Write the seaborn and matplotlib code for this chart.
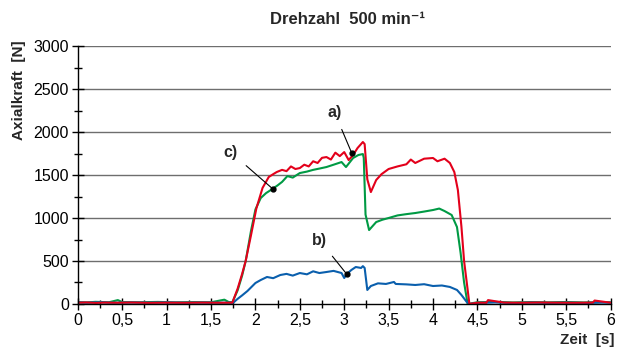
import matplotlib
matplotlib.use("Agg")
import matplotlib.pyplot as plt
import seaborn as sns
from matplotlib.ticker import MultipleLocator, FuncFormatter

# Data (time in s, force in N)
t_a = [0, 0.1, 0.2, 0.3, 0.45, 0.6, 0.8, 1.0, 1.2, 1.4, 1.6, 1.74, 1.8, 1.85, 1.89, 1.95, 2.01,
       2.08, 2.15, 2.2, 2.24, 2.3, 2.35, 2.4, 2.45, 2.5, 2.55, 2.6, 2.65, 2.7, 2.75, 2.8, 2.85,
       2.9, 2.95, 3.0, 3.05, 3.1, 3.15, 3.21, 3.23, 3.26, 3.3, 3.36, 3.42, 3.5, 3.6, 3.7, 3.75,
       3.8, 3.9, 4.0, 4.05, 4.13, 4.19, 4.24, 4.28, 4.32, 4.35, 4.41, 4.5, 4.6, 4.62, 4.8, 5.0,
       5.2, 5.4, 5.6, 5.8, 5.82, 6.0]
force_a = [15, 18, 12, 16, 14, 17, 13, 15, 14, 16, 14, 15, 180, 350, 500, 800, 1110,
           1350, 1477, 1510, 1535, 1560, 1545, 1600, 1570, 1581, 1620, 1600, 1660, 1640, 1700,
           1709, 1680, 1760, 1720, 1767, 1674, 1733, 1814, 1884, 1860, 1450, 1302, 1442,
           1510, 1570, 1600, 1625, 1680, 1640, 1690, 1698, 1660, 1690, 1640, 1535, 1326, 900,
           500, 0, 15, 14, 45, 16, 14, 17, 15, 14, 16, 40, 15]

t_b = [0, 0.1, 0.25, 0.4, 0.6, 0.8, 1.0, 1.2, 1.4, 1.6, 1.75, 1.8, 1.85, 1.91, 2.0, 2.06,
       2.13, 2.2, 2.28, 2.35, 2.42, 2.5, 2.58, 2.65, 2.72, 2.8, 2.88, 2.97, 3.0, 3.03, 3.08,
       3.13, 3.19, 3.21, 3.23, 3.26, 3.3, 3.38, 3.47, 3.56, 3.58, 3.7, 3.8, 3.9, 4.0, 4.1,
       4.19, 4.27, 4.32, 4.38, 4.41, 4.5, 4.7, 4.9, 5.1, 5.3, 5.5, 5.7, 5.9, 6.0]
force_b = [18, 15, 20, 14, 17, 15, 18, 14, 16, 15, 15, 60, 100, 151, 244, 279,
           314, 300, 337, 350, 330, 360, 345, 380, 360, 372, 385, 360, 302, 349, 395,
           430, 419, 440, 419, 163, 209, 240, 233, 256, 233, 228, 221, 230, 209, 215,
           198, 163, 105, 23, 0, 12, 18, 10, 16, 12, 15, 11, 16, 14]

t_c = [0, 0.1, 0.2, 0.35, 0.45, 0.5, 0.7, 0.9, 1.1, 1.3, 1.5, 1.65, 1.7, 1.74, 1.8, 1.85,
       1.89, 1.95, 2.0, 2.06, 2.12, 2.19, 2.25, 2.3, 2.36, 2.42, 2.5, 2.58, 2.65, 2.72, 2.8,
       2.88, 2.97, 3.02, 3.1, 3.16, 3.21, 3.22, 3.24, 3.28, 3.36, 3.43, 3.5, 3.6, 3.7, 3.8,
       3.9, 4.0, 4.07, 4.13, 4.21, 4.27, 4.31, 4.35, 4.39, 4.5, 4.7, 4.9, 5.1, 5.3, 5.5,
       5.7, 5.9, 6.0]
force_c = [22, 18, 25, 20, 45, 22, 20, 24, 19, 22, 20, 50, 22, 20, 160, 330,
           500, 850, 1100, 1233, 1290, 1337, 1380, 1420, 1488, 1470, 1523, 1540, 1560,
           1575, 1593, 1620, 1651, 1593, 1698, 1733, 1744, 1700, 1040, 860, 953, 980,
           1000, 1030, 1045, 1058, 1075, 1093, 1110, 1081, 1035, 895, 600, 250, 0, 20,
           24, 18, 22, 19, 23, 18, 22, 20]

x_ticks = [0, 0.5, 1, 1.5, 2, 2.5, 3, 3.5, 4, 4.5, 5, 5.5, 6]
y_ticks = [0, 500, 1000, 1500, 2000, 2500, 3000]

sns.set_style("white")
plt.rcParams['font.family'] = ['Liberation Sans Narrow', 'Liberation Sans', 'DejaVu Sans']

fig = plt.figure(figsize=(6.18, 3.49), dpi=100)
ax = fig.add_axes([0.126, 0.129, 0.862, 0.739])

for yv in y_ticks[1:]:
    ax.axhline(yv, color="#6e6e6e", lw=1.0, zorder=0)

sns.lineplot(x=t_c, y=force_c, color="#009a44", lw=1.5, ax=ax, sort=False)
sns.lineplot(x=t_b, y=force_b, color="#0a5fad", lw=1.5, ax=ax, sort=False)
sns.lineplot(x=t_a, y=force_a, color="#e3001b", lw=1.5, ax=ax, sort=False)

ax.set_xlim(0, 6)
ax.set_ylim(0, 3000)
ax.set_xticks(x_ticks)
ax.set_yticks(y_ticks)
ax.xaxis.set_minor_locator(MultipleLocator(0.25))
ax.yaxis.set_minor_locator(MultipleLocator(250))
ax.xaxis.set_major_formatter(FuncFormatter(lambda v, p: f"{v:g}".replace(".", ",")))
ax.tick_params(axis="both", which="major", direction="inout", length=9, width=1,
               colors="black", labelsize=11.5, pad=2)
ax.tick_params(axis="both", which="minor", direction="inout", length=6, width=1,
               colors="black")
ax.tick_params(axis="x", which="both", bottom=True)
ax.tick_params(axis="y", which="both", left=True)
for s in ["top", "right"]:
    ax.spines[s].set_visible(False)
for s in ["left", "bottom"]:
    ax.spines[s].set_color("black")
    ax.spines[s].set_linewidth(1)
    ax.spines[s].set_zorder(5)

# annotations
notes = [("a)", 2.89, 2230, 3.086, 1752),
         ("c)", 1.72, 1767, 2.197, 1337),
         ("b)", 2.72, 744, 3.03, 345)]
for lab, tx, ty, px, py in notes:
    ax.annotate(lab, xy=(px, py), xytext=(tx, ty), fontsize=11.5, fontweight="bold",
                ha="center", va="center",
                arrowprops=dict(arrowstyle="-", color="black", lw=0.8, shrinkA=5, shrinkB=0))
    ax.plot(px, py, "o", color="black", ms=3.5, zorder=6)

fig.text(0.563, 0.943, "Drehzahl  500 min⁻¹", ha="center", va="center",
         fontsize=12, fontweight="bold")
fig.text(0.03, 0.885, "Axialkraft  [N]", rotation=90, ha="center", va="top",
         fontsize=11, fontweight="bold")
fig.text(0.995, 0.025, "Zeit  [s]", ha="right", va="center", fontsize=11,
         fontweight="bold")

fig.savefig("out.png", dpi=100)
